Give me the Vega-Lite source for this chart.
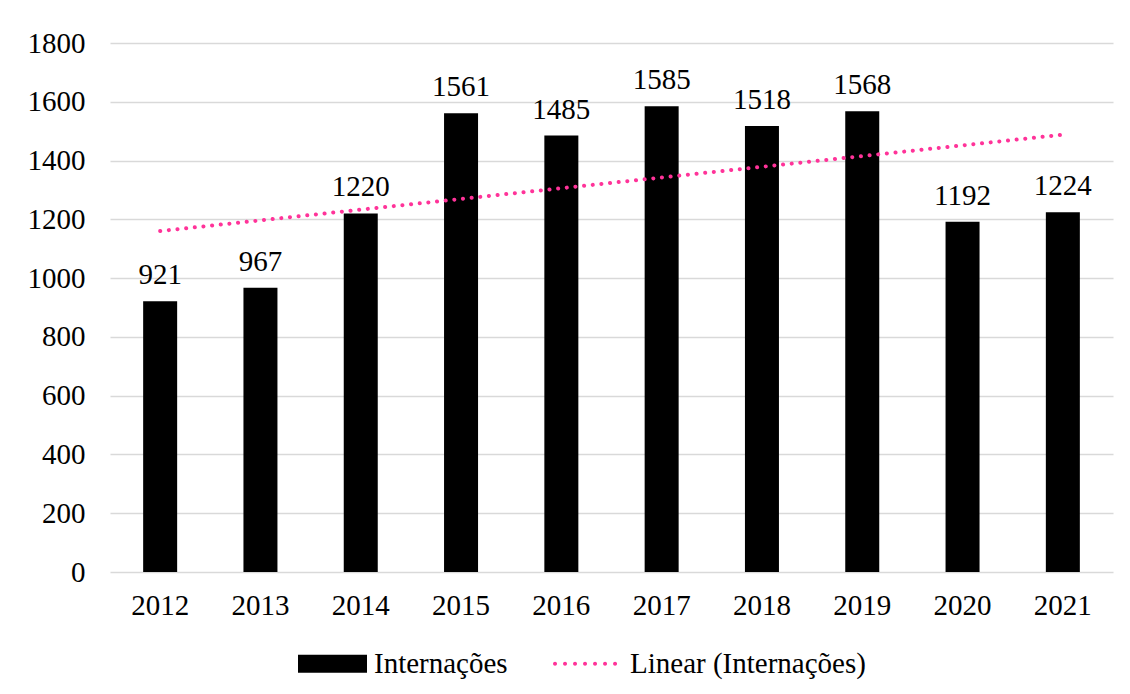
{
  "$schema": "https://vega.github.io/schema/vega-lite/v6.json",
  "width": 1003,
  "height": 529,
  "autosize": "none",
  "padding": {"left": 110, "top": 43, "right": 17, "bottom": 122},
  "background": "#ffffff",
  "config": {
    "font": "Liberation Serif",
    "view": {"stroke": null},
    "axis": {
      "labelFont": "Liberation Serif",
      "labelFontSize": 29,
      "labelColor": "#000000",
      "title": null,
      "domain": false,
      "ticks": false
    }
  },
  "data": {
    "values": [
      {"ano": 2012, "internacoes": 921},
      {"ano": 2013, "internacoes": 967},
      {"ano": 2014, "internacoes": 1220},
      {"ano": 2015, "internacoes": 1561},
      {"ano": 2016, "internacoes": 1485},
      {"ano": 2017, "internacoes": 1585},
      {"ano": 2018, "internacoes": 1518},
      {"ano": 2019, "internacoes": 1568},
      {"ano": 2020, "internacoes": 1192},
      {"ano": 2021, "internacoes": 1224}
    ]
  },
  "encoding": {
    "x": {
      "field": "ano",
      "type": "ordinal",
      "scale": {"paddingInner": 0, "paddingOuter": 0},
      "axis": {"labelAngle": 0, "labelPadding": 19, "labelFontSize": 29, "labelFont": "Liberation Serif", "grid": false}
    }
  },
  "layer": [
    {
      "mark": {"type": "bar", "size": 34, "color": "#000000"},
      "encoding": {
        "y": {
          "field": "internacoes",
          "type": "quantitative",
          "scale": {"domain": [0, 1800], "nice": false},
          "axis": {
            "values": [0, 200, 400, 600, 800, 1000, 1200, 1400, 1600, 1800],
            "format": "d",
            "labelPadding": 25,
            "labelFontSize": 29,
            "labelFont": "Liberation Serif",
            "grid": true,
            "gridColor": "#d9d9d9",
            "gridWidth": 1.5
          }
        },
        "color": {
          "datum": "Internações",
          "scale": {
            "domain": ["Internações", "Linear (Internações)"],
            "range": ["#000000", "#FF3399"]
          },
          "legend": {
            "title": null,
            "orient": "none",
            "direction": "horizontal",
            "legendX": 188,
            "legendY": 586,
            "labelFont": "Liberation Serif",
            "labelFontSize": 29,
            "labelColor": "#000000",
            "labelOffset": 7,
            "labelLimit": 400,
            "columnPadding": 45,
            "symbolSize": 4761,
            "symbolStrokeWidth": 0,
            "encode": {
              "symbols": {
                "update": {
                  "shape": {"signal": "datum.value === 'Internações' ? 'M-1,-0.26H1V0.26H-1Z' : 'M-1.028,0a0.058,0.058 0 1,0 0.116,0a0.058,0.058 0 1,0 -0.116,0M-0.738,0a0.058,0.058 0 1,0 0.116,0a0.058,0.058 0 1,0 -0.116,0M-0.448,0a0.058,0.058 0 1,0 0.116,0a0.058,0.058 0 1,0 -0.116,0M-0.158,0a0.058,0.058 0 1,0 0.116,0a0.058,0.058 0 1,0 -0.116,0M0.132,0a0.058,0.058 0 1,0 0.116,0a0.058,0.058 0 1,0 -0.116,0M0.422,0a0.058,0.058 0 1,0 0.116,0a0.058,0.058 0 1,0 -0.116,0M0.712,0a0.058,0.058 0 1,0 0.116,0a0.058,0.058 0 1,0 -0.116,0'"},
                  "fill": {"signal": "datum.value === 'Internações' ? '#000000' : '#FF3399'"},
                  "fillOpacity": {"value": 1},
                  "stroke": {"value": "transparent"},
                  "strokeWidth": {"value": 0},
                  "strokeDash": {"value": []},
                  "opacity": {"value": 1}
                }
              }
            }
          }
        }
      }
    },
    {
      "mark": {"type": "text", "baseline": "alphabetic", "dy": -17, "fontSize": 29, "font": "Liberation Serif", "color": "#000000"},
      "encoding": {
        "y": {"field": "internacoes", "type": "quantitative"},
        "text": {"field": "internacoes", "type": "quantitative", "format": "d"}
      }
    },
    {
      "transform": [{"regression": "internacoes", "on": "ano"}],
      "mark": {"type": "line", "strokeWidth": 4, "strokeDash": [0.1, 8.6], "strokeCap": "round"},
      "encoding": {
        "y": {"field": "internacoes", "type": "quantitative"},
        "color": {"datum": "Linear (Internações)"}
      }
    }
  ]
}
